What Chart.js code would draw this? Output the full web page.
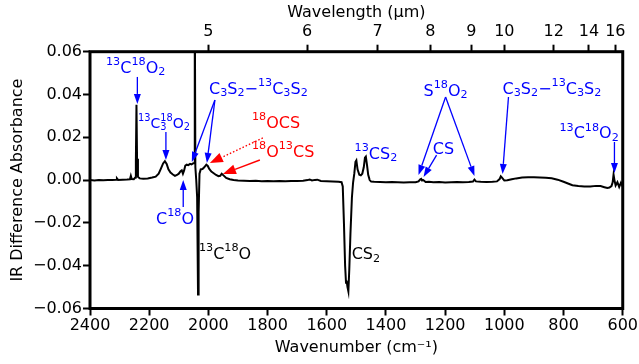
<!DOCTYPE html>
<html>
<head>
<meta charset="utf-8">
<script src="https://cdn.jsdelivr.net/npm/chart.js@4/dist/chart.umd.min.js"></script>
<style>
  html, body { margin: 0; padding: 0; background: #fff; }
  #wrap { width: 639px; height: 364px; position: relative; }
</style>
</head>
<body>
<div id="wrap"><canvas id="c" width="639" height="364"></canvas></div>
<script>
// ---------------- DATA ----------------
const wavenumber = [
  2400,2385,2370,2355,2340,2325,2312,2309,2305,2290,2275,2265,2262,2259,2252,2247,2245,2243,2241,2238,2232,
  2220,2205,2190,2178,2168,2160,2153,2147,2141,2135,2128,2120,2113,2106,2100,2094,2090,2086,2082,2078,2073,2068,2062,2057,2052,
  2048,2046,2044,2041,2038,2035,2033,2030,2026,2020,2014,2007,2002,1997,1990,1982,1974,1966,1960,1955,1949,1940,1928,1915,1900,
  1880,1860,1840,1820,1800,1780,1760,1740,1720,1700,1680,1665,1658,1650,1640,1632,1620,1600,1580,1560,1550,
  1546,1542,1538,1535,1533,1530,1527,1524,1520,1515,1511,1507,1503,1500,1496,1490,1485,1480,1475,1471,1468,1464,1460,1455,1450,1440,
  1420,1400,1380,1360,1340,1320,1300,1290,1284,1281,1278,1274,1271,1266,1255,1240,1220,1200,1180,1160,1140,1120,1106,1101,1096,1080,1060,1040,1025,1016,1012,1008,1000,
  990,975,960,940,920,900,880,860,840,820,800,785,770,750,730,710,690,675,662,652,645,638,634,631,628,624,618,612,606,600
];
const absorbance = [
  0.0000,-0.0002,0.0001,-0.0001,0.0000,0.0001,0.0002,0.0008,0.0001,0.0002,0.0003,0.0004,0.0020,0.0005,0.0004,0.0012,0.0090,0.0352,0.0100,0.0015,0.0008,
  0.0006,0.0008,0.0012,0.0016,0.0030,0.0055,0.0078,0.0088,0.0076,0.0050,0.0035,0.0026,0.0020,0.0024,0.0030,0.0042,0.0046,0.0030,0.0045,0.0068,0.0072,0.0070,0.0076,0.0073,0.0078,
  0.0080,0.0900,0.0060,0.0000,-0.0080,-0.0535,-0.0150,0.0030,0.0050,0.0052,0.0060,0.0072,0.0066,0.0052,0.0040,0.0032,0.0024,0.0018,0.0020,0.0030,0.0022,0.0010,0.0004,0.0000,-0.0002,
  -0.0003,-0.0004,-0.0003,-0.0005,-0.0004,-0.0005,-0.0004,-0.0005,-0.0004,-0.0004,-0.0003,0.0000,0.0003,-0.0002,0.0001,0.0002,-0.0004,-0.0005,-0.0006,-0.0008,-0.0010,
  -0.0030,-0.0200,-0.0400,-0.0480,-0.0470,-0.0500,-0.0520,-0.0420,-0.0250,-0.0080,-0.0010,0.0030,0.0085,0.0092,0.0050,0.0025,0.0022,0.0030,0.0060,0.0105,0.0110,0.0070,0.0025,0.0000,-0.0007,-0.0008,
  -0.0009,-0.0010,-0.0009,-0.0010,-0.0011,-0.0010,-0.0010,-0.0006,0.0004,0.0006,-0.0002,0.0000,-0.0003,-0.0009,-0.0008,-0.0010,-0.0009,-0.0011,-0.0010,-0.0009,-0.0010,-0.0009,-0.0007,0.0002,-0.0006,-0.0008,-0.0009,-0.0008,-0.0006,0.0005,0.0018,0.0012,-0.0002,
  -0.0001,0.0004,0.0008,0.0012,0.0013,0.0013,0.0012,0.0011,0.0009,0.0002,-0.0008,-0.0016,-0.0024,-0.0028,-0.0030,-0.0030,-0.0027,-0.0028,-0.0033,-0.0037,-0.0035,-0.0028,-0.0010,0.0026,0.0000,-0.0025,-0.0010,-0.0032,-0.0012,-0.0030
];
const yTicks = [-0.06, -0.04, -0.02, 0.00, 0.02, 0.04, 0.06];
const xTicks = [2400, 2200, 2000, 1800, 1600, 1400, 1200, 1000, 800, 600];
const wavelengthTicks = [5, 6, 7, 8, 9, 10, 12, 14, 16];

// Annotation labels: text (^{} superscript, _{} subscript), anchor (wavenumber, absorbance) = left edge / vertical middle
const labelTexts  = ['^{13}C^{18}O_{2}', '^{13}C_{3}^{18}O_{2}', 'C_{3}S_{2}−^{13}C_{3}S_{2}', '^{18}OCS', '^{18}O^{13}CS', 'C^{18}O', '^{13}C^{18}O', 'CS_{2}', '^{13}CS_{2}', 'S^{18}O_{2}', 'CS', 'C_{3}S_{2}−^{13}C_{3}S_{2}', '^{13}C^{18}O_{2}'];
const labelWn     = [2346, 2238, 1998, 1853, 1853, 2177, 2032, 1516, 1506, 1273, 1242, 1006, 814];
const labelAbs    = [0.0528, 0.0269, 0.0430, 0.0271, 0.0136, -0.0177, -0.0341, -0.0343, 0.0127, 0.0421, 0.0150, 0.0430, 0.0222];
const labelColors = ['blue','blue','blue','red','red','blue','black','black','blue','blue','blue','blue','blue'];
const labelSizes  = [16, 14, 16, 16, 16, 16, 16, 16, 16, 16, 16, 16, 16];

// Arrows: from (wn, abs) to (wn, abs)
const arrowFromWn  = [2240, 2143.5, 1978, 1978, 1816, 1826, 2085, 1198.5, 1198.5, 1229, 986, 628];
const arrowFromAbs = [0.0482, 0.0225, 0.0374, 0.0374, 0.0197, 0.0094, -0.0126, 0.0388, 0.0388, 0.0117, 0.0388, 0.0178];
const arrowToWn    = [2240, 2143.5, 2056, 2005, 1995, 1951, 2085, 1290, 1101, 1273, 1006, 628];
const arrowToAbs   = [0.0356, 0.0094, 0.0085, 0.0080, 0.0080, 0.0029, 0.0000, 0.0024, 0.0019, 0.0015, 0.0029, 0.0033];
const arrowColors  = ['blue','blue','blue','blue','red','red','blue','blue','blue','blue','blue','blue'];
const arrowDotted  = [false,false,false,false,true,false,false,false,false,false,false,false];

// ---------------- RENDER ----------------
const FONT = "'DejaVu Sans', 'Liberation Sans', sans-serif";

function parseRich(str) {
  const segs = [];
  let i = 0;
  while (i < str.length) {
    const c = str[i];
    if ((c === '^' || c === '_') && str[i + 1] === '{') {
      const end = str.indexOf('}', i);
      const seg = { t: str.slice(i + 2, end), k: c === '^' ? 'sup' : 'sub' };
      i = end + 1;
      const prev = segs[segs.length - 1];
      if (prev && prev.k && prev.k !== seg.k && prev.fresh) { prev.stack = seg; prev.fresh = false; continue; }
      seg.fresh = true;
      segs.push(seg);
    } else {
      let j = i;
      while (j < str.length && !((str[j] === '^' || str[j] === '_') && str[j + 1] === '{')) j++;
      segs.push({ t: str.slice(i, j) });
      i = j;
    }
  }
  return segs;
}

function drawRich(ctx, str, x, yMid, size, color) {
  const segs = parseRich(str);
  const small = size * 0.7;
  const base = yMid + 0.365 * size;
  ctx.save();
  ctx.fillStyle = color;
  ctx.textBaseline = 'alphabetic';
  ctx.textAlign = 'left';
  let cx = x;
  for (const s of segs) {
    if (!s.k) {
      ctx.font = size + 'px ' + FONT;
      ctx.fillText(s.t, cx, base);
      cx += ctx.measureText(s.t).width;
    } else {
      ctx.font = small + 'px ' + FONT;
      const parts = [s];
      if (s.stack) parts.push(s.stack);
      let w = 0;
      for (const p of parts) {
        const y = p.k === 'sup' ? base - 0.48 * size : base + 0.15 * size;
        ctx.fillText(p.t, cx, y);
        w = Math.max(w, ctx.measureText(p.t).width);
      }
      cx += w;
    }
  }
  ctx.restore();
}

function drawArrow(ctx, x1, y1, x2, y2, color, dotted) {
  const red = color === 'red';
  const headLen = red ? 13 : 10;
  const headW = red ? 10 : 7;
  const ang = Math.atan2(y2 - y1, x2 - x1);
  const bx = x2 - headLen * Math.cos(ang), by = y2 - headLen * Math.sin(ang);
  ctx.save();
  ctx.strokeStyle = color;
  ctx.fillStyle = color;
  ctx.lineWidth = red ? 1.4 : 1.3;
  if (dotted) ctx.setLineDash([1.5, 2]);
  ctx.beginPath();
  ctx.moveTo(x1, y1);
  ctx.lineTo(bx, by);
  ctx.stroke();
  ctx.setLineDash([]);
  ctx.beginPath();
  ctx.moveTo(x2, y2);
  ctx.lineTo(bx + (headW / 2) * Math.sin(ang), by - (headW / 2) * Math.cos(ang));
  ctx.lineTo(bx - (headW / 2) * Math.sin(ang), by + (headW / 2) * Math.cos(ang));
  ctx.closePath();
  ctx.fill();
  ctx.restore();
}

const annotatePlugin = {
  id: 'annotate',
  afterDatasetsDraw(chart) {
    const ctx = chart.ctx;
    const xs = chart.scales.x, ys = chart.scales.y;
    for (let i = 0; i < arrowFromWn.length; i++) {
      drawArrow(ctx,
        xs.getPixelForValue(arrowFromWn[i]), ys.getPixelForValue(arrowFromAbs[i]),
        xs.getPixelForValue(arrowToWn[i]), ys.getPixelForValue(arrowToAbs[i]),
        arrowColors[i], arrowDotted[i]);
    }
    for (let i = 0; i < labelTexts.length; i++) {
      drawRich(ctx, labelTexts[i], xs.getPixelForValue(labelWn[i]), ys.getPixelForValue(labelAbs[i]), labelSizes[i], labelColors[i]);
    }
    const a = chart.chartArea;
    ctx.save();
    ctx.strokeStyle = '#000';
    ctx.lineWidth = 3;
    ctx.strokeRect(a.left, a.top, a.right - a.left, a.bottom - a.top);
    ctx.restore();
  }
};

const fmt = v => {
  const s = Math.abs(v).toFixed(2);
  return (v < -1e-9 ? '\u2212' : '') + s;
};

const tickFont = { family: FONT, size: 16 };
const gridCommon = { display: true, drawOnChartArea: false, drawTicks: true, tickLength: 7, tickWidth: 2, tickColor: '#000', color: '#000' };

new Chart(document.getElementById('c'), {
  type: 'line',
  data: {
    datasets: [{
      data: wavenumber.map((w, i) => ({ x: w, y: absorbance[i] })),
      borderColor: '#000',
      borderWidth: 2,
      pointRadius: 0,
      tension: 0,
      fill: false
    }]
  },
  options: {
    responsive: false,
    animation: false,
    devicePixelRatio: 1,
    layout: { padding: { left: 0, right: 15.5, top: 0, bottom: 0 } },
    plugins: { legend: { display: false }, tooltip: { enabled: false } },
    scales: {
      x: {
        type: 'linear', position: 'bottom', min: 600, max: 2400, reverse: true,
        afterBuildTicks: s => { s.ticks = xTicks.map(v => ({ value: v })); },
        afterFit: s => { s.height = 55.5; },
        ticks: { font: tickFont, color: '#000', padding: 1, maxRotation: 0, autoSkip: false, callback: v => String(v) },
        grid: gridCommon,
        border: { display: false },
        title: { display: true, text: 'Wavenumber (cm\u207B\u00B9)', font: tickFont, color: '#000', padding: { top: 0, bottom: 7 } }
      },
      x2: {
        type: 'linear', position: 'top', min: 600, max: 2400, reverse: true,
        afterBuildTicks: s => { s.ticks = wavelengthTicks.map(l => ({ value: 10000 / l })); },
        afterFit: s => { s.height = 51.7; },
        ticks: { font: tickFont, color: '#000', padding: 3, maxRotation: 0, autoSkip: false, callback: v => String(Math.round(10000 / v)) },
        grid: gridCommon,
        border: { display: false },
        title: { display: true, text: 'Wavelength (\u03BCm)', font: tickFont, color: '#000', padding: { top: 3.4, bottom: 0 } }
      },
      y: {
        type: 'linear', position: 'left', min: -0.06, max: 0.06,
        afterBuildTicks: s => { s.ticks = yTicks.map(v => ({ value: v })); },
        afterFit: s => { s.width = 90; },
        ticks: { font: tickFont, color: '#000', padding: 1, autoSkip: false, callback: v => fmt(v) },
        grid: gridCommon,
        border: { display: false },
        title: { display: true, text: 'IR Difference Absorbance', font: tickFont, color: '#000', padding: { top: 8.4, bottom: 0 } }
      }
    }
  },
  plugins: [annotatePlugin]
});
</script>
</body>
</html>
